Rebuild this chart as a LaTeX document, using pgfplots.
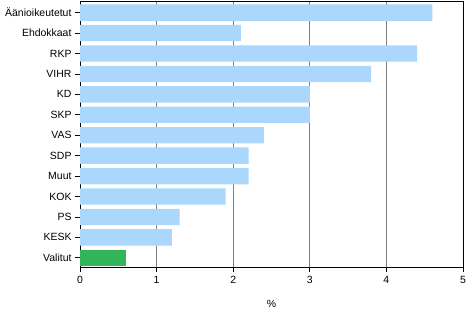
\documentclass[border=0pt]{standalone}
\usepackage{fontspec}
\setmainfont{Liberation Sans}
\usepackage{pgfplots}
\pgfplotsset{compat=1.18}
\definecolor{barblue}{RGB}{170,215,251}
\definecolor{bargreen}{RGB}{50,181,90}
\definecolor{gridgray}{RGB}{128,128,128}
\begin{document}
\begin{tikzpicture}
\begin{axis}[
  scale only axis,
  width=383bp, height=266bp,
  xmin=0, xmax=5,
  ymin=-0.45, ymax=12.57,
  xtick={0,1,2,3,4,5},
  ytick={0,...,12},
  yticklabels={Valitut,KESK,PS,KOK,Muut,SDP,VAS,SKP,KD,VIHR,RKP,Ehdokkaat,Äänioikeutetut},
  xtick pos=bottom, ytick pos=left,
  tick align=outside,
  major tick length=5bp,
  tick style={black, line width=0.8pt},
  axis line style={black, line width=0.8pt},
  xmajorgrids,
  major grid style={gridgray, line width=0.8pt},
  ticklabel style={font=\fontsize{10.5}{12}\selectfont},
  xticklabel style={yshift=-1bp},
  /pgf/number format/assume math mode=true,
  xlabel={\%},
  xlabel style={font=\fontsize{10.5}{12}\selectfont, yshift=-9bp},
  xbar, bar width=0.8, bar shift=0pt,
]
\addplot[draw=none, fill=barblue] coordinates {
 (1.2,1) (1.3,2) (1.9,3) (2.2,4) (2.2,5) (2.4,6) (3.0,7) (3.0,8) (3.8,9) (4.4,10) (2.1,11) (4.6,12)
};
\addplot[draw=none, fill=bargreen] coordinates {(0.6,0)};
\end{axis}
\pgfresetboundingbox
\path ([shift={(-80bp,-46bp)}]current axis.south west) rectangle ([shift={(4bp,1bp)}]current axis.north east);
\end{tikzpicture}
\end{document}
